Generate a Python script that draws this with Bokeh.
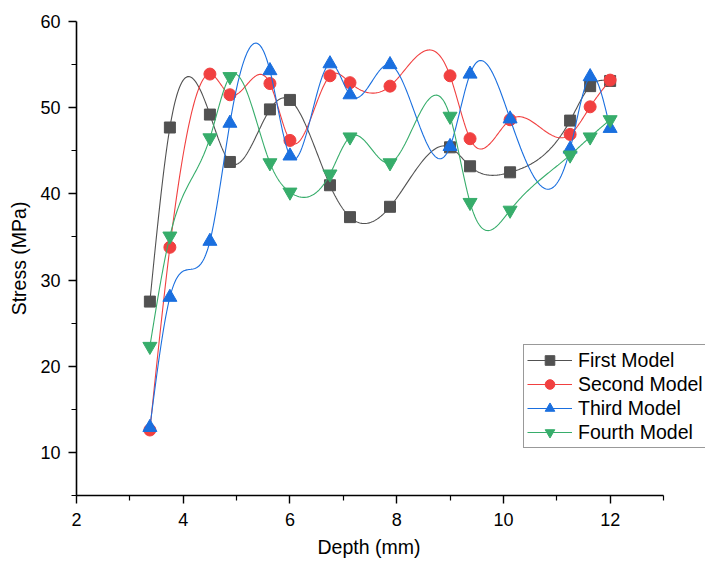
import numpy as np
from bokeh.plotting import figure
from bokeh.models import Range1d, FixedTicker, Legend, LegendItem, Title
from bokeh.embed import file_html
from bokeh.resources import INLINE

depth = [3.375, 3.75, 4.5, 4.875, 5.625, 6.0, 6.75, 7.125, 7.875, 9.0, 9.375, 10.125, 11.25, 11.625, 12.0]
first_model = [27.5, 47.7, 49.2, 43.7, 49.8, 50.9, 41.0, 37.3, 38.5, 45.4, 43.2, 42.5, 48.5, 52.5, 53.1]
second_model = [12.6, 33.8, 53.9, 51.5, 52.8, 46.2, 53.7, 52.9, 52.5, 53.7, 46.4, 48.6, 46.9, 50.1, 53.2]
third_model = [12.9, 28.0, 34.5, 48.2, 54.3, 44.4, 55.1, 51.5, 55.0, 45.5, 53.9, 48.7, 45.2, 53.6, 47.6]
fourth_model = [22.3, 35.1, 46.5, 53.6, 43.6, 40.2, 42.3, 46.6, 43.6, 49.0, 39.0, 38.1, 44.5, 46.6, 48.6]

names = ["First Model", "Second Model", "Third Model", "Fourth Model"]
colors = ["#515151", "#F14040", "#1A6FDF", "#37AD6B"]
markers = ["square", "circle", "triangle", "inverted_triangle"]
sizes = [11, 12, 14, 14]

x_ticks = [2, 4, 6, 8, 10, 12]
x_minor = [3, 5, 7, 9, 11, 13]
y_ticks = [10, 20, 30, 40, 50, 60]
y_minor = [5, 15, 25, 35, 45, 55]
x_axis_min, x_axis_max = 2, 13
y_axis_min, y_axis_max = 5, 60
x_title = "Depth (mm)"
y_title = "Stress (MPa)"


def natural_spline(x, y, n=40):
    x = np.asarray(x, float)
    y = np.asarray(y, float)
    m = len(x)
    h = np.diff(x)
    A = np.zeros((m, m))
    b = np.zeros(m)
    A[0, 0] = 1
    A[-1, -1] = 1
    for i in range(1, m - 1):
        A[i, i - 1] = h[i - 1]
        A[i, i] = 2 * (h[i - 1] + h[i])
        A[i, i + 1] = h[i]
        b[i] = 3 * ((y[i + 1] - y[i]) / h[i] - (y[i] - y[i - 1]) / h[i - 1])
    c = np.linalg.solve(A, b)
    xs, ys = [], []
    for i in range(m - 1):
        bi = (y[i + 1] - y[i]) / h[i] - h[i] * (2 * c[i] + c[i + 1]) / 3
        di = (c[i + 1] - c[i]) / (3 * h[i])
        t = np.linspace(0, h[i], n, endpoint=(i == m - 2))
        xs.extend(x[i] + t)
        ys.extend(y[i] + bi * t + c[i] * t ** 2 + di * t ** 3)
    return xs, ys


W, H = 705, 565
left, right_axis_px, top, bottom = 76, 663, 21, 70
# frame spans to the window edge so the legend is not clipped; the axis line stops at 13
px_per_unit = (right_axis_px - left) / (x_axis_max - x_axis_min)
x_view_max = x_axis_min + (W - left) / px_per_unit

p = figure(width=W, height=H, output_backend="svg", toolbar_location=None,
           x_range=Range1d(x_axis_min, x_view_max), y_range=Range1d(y_axis_min, y_axis_max),
           min_border_left=left, min_border_right=0, min_border_top=top, min_border_bottom=bottom)
p.outline_line_color = None
p.xgrid.grid_line_color = None
p.ygrid.grid_line_color = None
p.background_fill_color = "white"

p.xaxis.ticker = FixedTicker(ticks=x_ticks, minor_ticks=x_minor)
p.yaxis.ticker = FixedTicker(ticks=y_ticks, minor_ticks=y_minor)
p.xaxis.bounds = (x_axis_min, x_axis_max)
p.yaxis.axis_label = y_title
for ax in (p.xaxis, p.yaxis):
    ax.axis_line_width = 1.6
    ax.axis_line_color = "black"
    ax.major_tick_line_color = "black"
    ax.minor_tick_line_color = "black"
    ax.major_tick_line_width = 1.4
    ax.minor_tick_line_width = 1.2
    ax.major_tick_in = 0
    ax.major_tick_out = 8
    ax.minor_tick_in = 0
    ax.minor_tick_out = 5
    ax.major_label_text_font = "Liberation Sans"
    ax.major_label_text_font_size = "18px"
    ax.major_label_text_color = "black"
    ax.axis_label_text_font = "Liberation Sans"
    ax.axis_label_text_font_size = "19.5px"
    ax.axis_label_text_font_style = "normal"
    ax.axis_label_text_color = "black"
p.xaxis.major_label_standoff = 9
p.yaxis.major_label_standoff = 8
p.yaxis.axis_label_standoff = 7

# x-axis title centred under the axis line (2..13), not under the widened frame
xt = Title(text=x_title, align="left", offset=241, standoff=10,
           text_font="Liberation Sans", text_font_size="19.5px",
           text_font_style="normal", text_color="black")
p.add_layout(xt, "below")

series = [first_model, second_model, third_model, fourth_model]
items = []
for name, vals, col, mk, sz in zip(names, series, colors, markers, sizes):
    sx, sy = natural_spline(depth, vals)
    lr = p.line(sx, sy, line_color=col, line_width=1.1)
    sr = p.scatter(depth, vals, marker=mk, size=sz, fill_color=col, line_color=col)
    items.append(LegendItem(label=name, renderers=[lr, sr]))

legend = Legend(items=items, location=(447, 47))
legend.label_text_font = "Liberation Sans"
legend.label_text_font_size = "19.5px"
legend.label_text_color = "black"
legend.glyph_width = 45
legend.glyph_height = 24
legend.label_height = 24
legend.label_standoff = 6
legend.spacing = 0
legend.padding = 3
legend.margin = 0
legend.border_line_color = "#333333"
legend.border_line_width = 1
legend.background_fill_color = "white"
legend.background_fill_alpha = 1
p.add_layout(legend)

open("out.html", "w").write(file_html(p, INLINE))
